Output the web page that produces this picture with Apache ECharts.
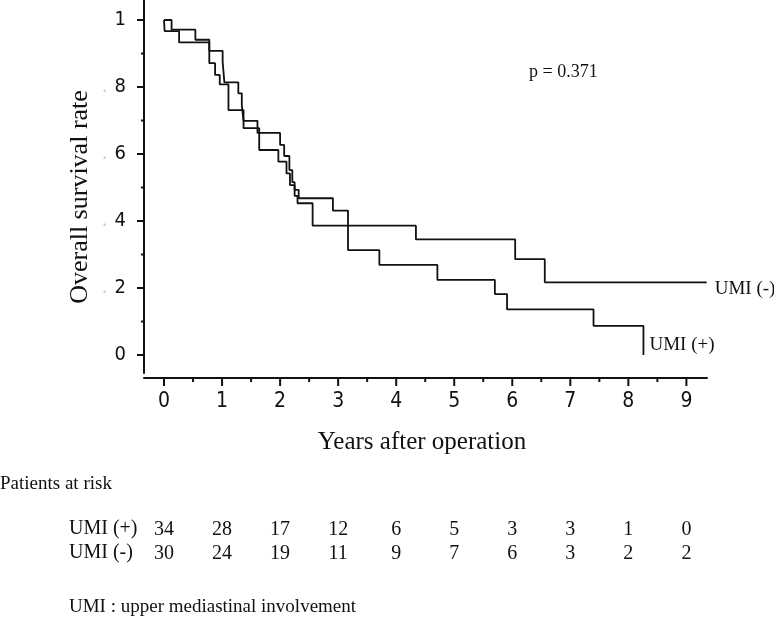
<!DOCTYPE html>
<html>
<head>
<meta charset="utf-8">
<script src="https://cdn.jsdelivr.net/npm/echarts@6/dist/echarts.min.js"></script>
<style>
html,body{margin:0;padding:0;background:#fff;}
#chart{width:774px;height:619px;}
</style>
</head>
<body>
<div id="chart"></div>
<script>
// ---- data ----
const umiPlusTime = [0, 0.13, 0.54, 0.78, 1.01, 1.04, 1.28, 1.34, 1.37, 1.61, 2.00, 2.07, 2.16, 2.21, 2.25, 2.32, 2.91, 3.17, 3.71, 4.71, 5.70, 5.91, 7.40, 8.26];
const umiPlusSurv = [1, 0.971, 0.941, 0.908, 0.875, 0.814, 0.781, 0.745, 0.699, 0.663, 0.627, 0.594, 0.552, 0.516, 0.493, 0.468, 0.431, 0.313, 0.269, 0.224, 0.182, 0.136, 0.087, 0];
const umiMinusTime = [0, 0.01, 0.26, 0.78, 0.88, 0.96, 1.11, 1.37, 1.64, 1.97, 2.11, 2.17, 2.25, 2.30, 2.56, 4.34, 6.05, 6.56, 9.35];
const umiMinusSurv = [1, 0.967, 0.933, 0.871, 0.836, 0.808, 0.731, 0.677, 0.612, 0.577, 0.542, 0.507, 0.475, 0.453, 0.386, 0.345, 0.286, 0.217, 0.217];

const yearTicks = [0, 1, 2, 3, 4, 5, 6, 7, 8, 9];
const yearMinorTicks = [0.5, 1.5, 2.5, 3.5, 4.5, 5.5, 6.5, 7.5, 8.5];
const survTicks = [0, 0.2, 0.4, 0.6, 0.8, 1];
const survMinorTicks = [0.1, 0.3, 0.5, 0.7, 0.9];

const riskPlus = [34, 28, 17, 12, 6, 5, 3, 3, 1, 0];
const riskMinus = [30, 24, 19, 11, 9, 7, 6, 3, 2, 2];

const seriesNames = ['UMI (+)', 'UMI (-)'];
const pValueText = 'p = 0.371';
const xTitle = 'Years after operation';
const yTitle = 'Overall survival rate';
const riskTitle = 'Patients at risk';
const footnote = 'UMI : upper mediastinal involvement';

// ---- style ----
const INK = '#111';
const NARROW = '"Liberation Sans Narrow","Arial Narrow","DejaVu Sans Condensed",sans-serif';
const SERIF = '"Liberation Serif","Times New Roman",serif';
const X_MIN = -0.345, X_MAX = 9.355, Y_MIN = -0.0537, Y_MAX = 1.0597;
const X_AXIS_OFFSET = 5;

const zip = (xs, ys) => xs.map((x, i) => [x, ys[i]]);

const chart = echarts.init(document.getElementById('chart'), null, {renderer: 'canvas'});

// tick marks, placed through the axis scales (api.coord)
// row: [x, y, orientation(0 = x tick, 1 = y tick), lengthIndex]
const TICK_LEN = [8, 4, 7, 3];
const tickRows = []
  .concat(yearTicks.map(v => [v, Y_MIN, 0, 0]))
  .concat(yearMinorTicks.map(v => [v, Y_MIN, 0, 1]))
  .concat(survTicks.map(v => [X_MIN, v, 1, 2]))
  .concat(survMinorTicks.map(v => [X_MIN, v, 1, 3]));

const tickSeries = {
  type: 'custom', silent: true, clip: false, xAxisIndex: 0, yAxisIndex: 0, z: 10,
  data: tickRows,
  encode: {x: 0, y: 1},
  renderItem: (params, api) => {
    const p = api.coord([api.value(0), api.value(1)]);
    const len = TICK_LEN[api.value(3)];
    let shape;
    if (api.value(2) === 0) {
      const y0 = p[1] + X_AXIS_OFFSET;
      shape = {x: p[0] - 1, y: y0, width: 2, height: len};
    } else {
      shape = {x: p[0] - len, y: p[1] - 1, width: len, height: 2};
    }
    return {type: 'rect', shape: shape, style: {fill: INK}};
  }
};

const riskAxis = (arr, offset) => ({
  type: 'value', gridIndex: 0, position: 'bottom', min: X_MIN, max: X_MAX, offset: offset,
  axisLine: {show: false, onZero: false}, axisTick: {show: false}, splitLine: {show: false},
  axisLabel: {
    customValues: yearTicks, margin: 0, fontFamily: SERIF, fontSize: 20, lineHeight: 20, color: INK,
    formatter: v => String(arr[Math.round(v)])
  }
});

const option = {
  backgroundColor: '#fff',
  animation: false,
  grid: {left: 144, right: 67, top: 0, bottom: 246, containLabel: false, outerBoundsMode: 'none'},
  xAxis: [
    {
      type: 'value', min: X_MIN, max: X_MAX, offset: X_AXIS_OFFSET, position: 'bottom',
      axisLine: {show: true, onZero: false, lineStyle: {color: INK, width: 2}},
      axisTick: {show: false},
      axisLabel: {customValues: yearTicks, margin: 13, fontFamily: NARROW, fontSize: 21, color: INK},
      splitLine: {show: false}
    },
    riskAxis(riskPlus, 147),
    riskAxis(riskMinus, 171)
  ],
  yAxis: [
    {
      type: 'value', min: Y_MIN, max: Y_MAX, position: 'left',
      axisLine: {show: true, onZero: false, lineStyle: {color: INK, width: 2}},
      axisTick: {show: false},
      axisLabel: {
        customValues: survTicks, margin: 18, fontFamily: NARROW, fontSize: 20, color: INK,
        formatter: v => (v === 0 ? '0' : v === 1 ? '1' : '{d|.}' + Math.round(v * 10)),
        rich: {d: {color: '#c8c8c8', fontFamily: NARROW, fontSize: 20, padding: [0, 7, 0, 0]}}
      },
      splitLine: {show: false}
    }
  ],
  series: [
    {
      name: seriesNames[0], type: 'line', step: 'end', xAxisIndex: 0, yAxisIndex: 0,
      data: zip(umiPlusTime, umiPlusSurv), showSymbol: false, symbol: 'none',
      lineStyle: {color: INK, width: 1.8},
      endLabel: {show: true, formatter: seriesNames[0], distance: 6, offset: [0, -10],
        fontFamily: SERIF, fontSize: 19, color: INK}
    },
    {
      name: seriesNames[1], type: 'line', step: 'end', xAxisIndex: 0, yAxisIndex: 0,
      data: zip(umiMinusTime, umiMinusSurv), showSymbol: false, symbol: 'none',
      lineStyle: {color: INK, width: 1.8},
      endLabel: {show: true, formatter: seriesNames[1], distance: 8, offset: [0, 7],
        fontFamily: SERIF, fontSize: 19, color: INK}
    },
    tickSeries
  ],
  graphic: [
    {type: 'text', x: 80, y: 197, rotation: Math.PI / 2,
      style: {text: yTitle, fontFamily: SERIF, fontSize: 26, fill: INK, textAlign: 'center', textVerticalAlign: 'middle'}},
    {type: 'text', x: 422, y: 442,
      style: {text: xTitle, fontFamily: SERIF, fontSize: 25, fill: INK, textAlign: 'center', textVerticalAlign: 'middle'}},
    {type: 'text', x: 529, y: 72,
      style: {text: pValueText, fontFamily: SERIF, fontSize: 18, fill: INK, textAlign: 'left', textVerticalAlign: 'middle'}},
    {type: 'text', x: 0, y: 484,
      style: {text: riskTitle, fontFamily: SERIF, fontSize: 19, fill: INK, textAlign: 'left', textVerticalAlign: 'middle'}},
    {type: 'text', x: 69, y: 529,
      style: {text: seriesNames[0], fontFamily: SERIF, fontSize: 20, fill: INK, textAlign: 'left', textVerticalAlign: 'middle'}},
    {type: 'text', x: 69, y: 553,
      style: {text: seriesNames[1], fontFamily: SERIF, fontSize: 20, fill: INK, textAlign: 'left', textVerticalAlign: 'middle'}},
    {type: 'text', x: 69, y: 607,
      style: {text: footnote, fontFamily: SERIF, fontSize: 19, fill: INK, textAlign: 'left', textVerticalAlign: 'middle'}}
  ]
};

chart.setOption(option);
</script>
</body>
</html>
